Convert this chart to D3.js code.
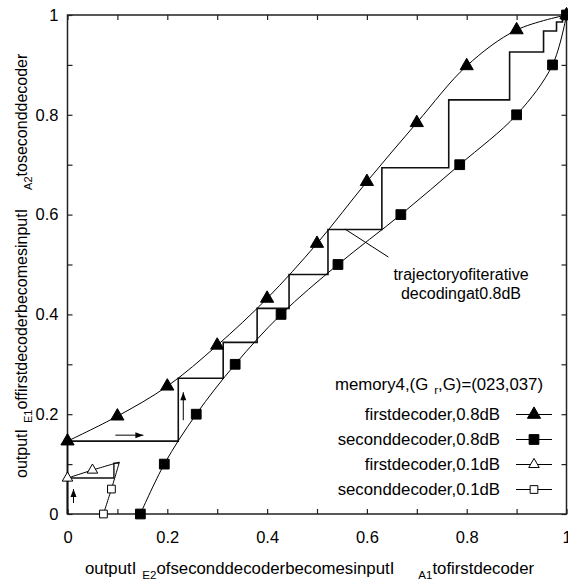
<!DOCTYPE html>
<html>
<head>
<meta charset="utf-8">
<script src="https://cdn.jsdelivr.net/npm/d3@7"></script>
<style>
  body { margin: 0; background: #fff; }
  text { font-family: "Liberation Sans", Arial, sans-serif; fill: #000; }
</style>
</head>
<body>
<div id="chart"></div>
<script>
// first decoder, 0.8dB : I_A1 -> I_E1
const first08X = [0, 0.1, 0.2, 0.3, 0.4, 0.5, 0.6, 0.7, 0.8, 0.9, 1.0];
const first08Y = [0.146, 0.196, 0.256, 0.338, 0.432, 0.542, 0.666, 0.784, 0.898, 0.97, 1.0];
// second decoder, 0.8dB : I_A2 (y) -> I_E2 (x)
const second08Y = [0, 0.1, 0.2, 0.3, 0.4, 0.5, 0.6, 0.7, 0.8, 0.9, 1.0];
const second08X = [0.146, 0.194, 0.258, 0.336, 0.428, 0.542, 0.668, 0.786, 0.90, 0.972, 1.0];
// 0.1dB curves
const first01X = [0, 0.05, 0.104];
const first01Y = [0.072, 0.088, 0.104];
const second01Y = [0, 0.05, 0.104];
const second01X = [0.072, 0.088, 0.104];
const marks01 = 2; // markers shown on first points only

// decoding trajectories
const traj08X = [0, 0, 0.222, 0.222, 0.312, 0.312, 0.38, 0.38, 0.444, 0.444, 0.522, 0.522, 0.63, 0.63, 0.764, 0.764, 0.886, 0.886, 0.954, 0.954, 0.98, 0.98, 0.992, 0.992, 1.0];
const traj08Y = [0, 0.146, 0.146, 0.272, 0.272, 0.344, 0.344, 0.412, 0.412, 0.48, 0.48, 0.57, 0.57, 0.694, 0.694, 0.83, 0.83, 0.926, 0.926, 0.968, 0.968, 0.986, 0.986, 1.0, 1.0];
const traj01X = [0, 0, 0.093, 0.093, 0.102, 0.102];
const traj01Y = [0, 0.072, 0.072, 0.102, 0.102, 0.104];

// arrows [x1, y1, x2, y2]
const arrows = [
  [0.012, 0.022, 0.012, 0.05],
  [0.096, 0.158, 0.152, 0.158],
  [0.232, 0.188, 0.232, 0.244]
];
// leader line of the annotation
const leader = [0.556, 0.571, 0.643, 0.515];

const majorTicks = [0, 0.2, 0.4, 0.6, 0.8, 1.0];
const tickLabels = ["0", "0.2", "0.4", "0.6", "0.8", "1"];
const minorTicks = [0.1, 0.3, 0.5, 0.7, 0.9];

const legendLabels = ["firstdecoder,0.8dB", "seconddecoder,0.8dB", "firstdecoder,0.1dB", "seconddecoder,0.1dB"];

const W = 568, H = 586;
const margin = {top: 15, right: 1.5, bottom: 72, left: 67.5};
const w = W - margin.left - margin.right;
const h = H - margin.top - margin.bottom;
const FS = "16.8px", SUB = "11.5px";

const svg = d3.select("#chart").append("svg")
  .attr("width", W).attr("height", H);
svg.append("rect").attr("width", W).attr("height", H).attr("fill", "#fff");

const g = svg.append("g").attr("transform", "translate(" + margin.left + "," + margin.top + ")");

const x = d3.scaleLinear().domain([0, 1]).range([0, w]);
const y = d3.scaleLinear().domain([0, 1]).range([h, 0]);

const allTicks = majorTicks.concat(minorTicks);
const fmt = v => { const i = majorTicks.indexOf(v); return i >= 0 ? tickLabels[i] : ""; };

// axes, ticks pointing in
const axisStyle = sel => {
  sel.select(".domain").remove();
  sel.selectAll(".tick line").attr("stroke", "#222").attr("stroke-width", 1.2);
  sel.selectAll("text").style("font-size", "16.5px").attr("fill", "#000");
};
g.append("g").attr("transform", "translate(0," + h + ")")
  .call(d3.axisBottom(x).tickValues(allTicks).tickFormat(fmt).tickSize(-5).tickPadding(17))
  .call(axisStyle);
g.append("g")
  .call(d3.axisTop(x).tickValues(allTicks).tickFormat("").tickSize(-5))
  .call(axisStyle);
g.append("g")
  .call(d3.axisLeft(y).tickValues(allTicks).tickFormat(fmt).tickSize(-5).tickPadding(9))
  .call(axisStyle);
g.append("g").attr("transform", "translate(" + w + ",0)")
  .call(d3.axisRight(y).tickValues(allTicks).tickFormat("").tickSize(-5))
  .call(axisStyle);

g.append("rect").attr("width", w).attr("height", h)
  .attr("fill", "none").attr("stroke", "#222").attr("stroke-width", 1.5);

const zip = (a, b) => a.map((v, i) => [v, b[i]]);
const smooth = d3.line().x(d => x(d[0])).y(d => y(d[1])).curve(d3.curveCatmullRom.alpha(0.5));
const straight = d3.line().x(d => x(d[0])).y(d => y(d[1]));

const curves = [
  {pts: zip(first08X, first08Y), sym: d3.symbolTriangle, size: 75, fill: "#000", n: 99},
  {pts: zip(second08X, second08Y), sym: d3.symbolSquare, size: 95, fill: "#000", n: 99},
  {pts: zip(first01X, first01Y), sym: d3.symbolTriangle, size: 48, fill: "#fff", n: marks01},
  {pts: zip(second01X, second01Y), sym: d3.symbolSquare, size: 60, fill: "#fff", n: marks01}
];

// trajectories
g.append("path").attr("d", straight(zip(traj08X, traj08Y)))
  .attr("fill", "none").attr("stroke", "#111").attr("stroke-width", 1.6);
g.append("path").attr("d", straight(zip(traj01X, traj01Y)))
  .attr("fill", "none").attr("stroke", "#111").attr("stroke-width", 1.4);

curves.forEach(c => {
  g.append("path").attr("d", smooth(c.pts))
    .attr("fill", "none").attr("stroke", "#000").attr("stroke-width", 1);
  g.selectAll(null).data(c.pts.slice(0, c.n)).enter().append("path")
    .attr("d", d3.symbol(c.sym, c.size))
    .attr("transform", d => "translate(" + x(d[0]) + "," + y(d[1]) + ")")
    .attr("fill", c.fill).attr("stroke", "#000").attr("stroke-width", 1);
});

// arrows
const head = (x1, y1, x2, y2) => {
  const a = Math.atan2(y2 - y1, x2 - x1), L = 8, s = 3;
  const bx = x2 - L * Math.cos(a), by = y2 - L * Math.sin(a);
  return [[x2, y2], [bx + s * Math.sin(a), by - s * Math.cos(a)], [bx - s * Math.sin(a), by + s * Math.cos(a)]];
};
arrows.forEach(a => {
  const x1 = x(a[0]), y1 = y(a[1]), x2 = x(a[2]), y2 = y(a[3]);
  g.append("line").attr("x1", x1).attr("y1", y1).attr("x2", x2).attr("y2", y2)
    .attr("stroke", "#000").attr("stroke-width", 1);
  g.append("polygon").attr("points", head(x1, y1, x2, y2).join(" ")).attr("fill", "#000");
});

// annotation
g.append("line").attr("x1", x(leader[0])).attr("y1", y(leader[1]))
  .attr("x2", x(leader[2])).attr("y2", y(leader[3]))
  .attr("stroke", "#000").attr("stroke-width", 1);
svg.append("text").attr("x", 461).attr("y", 280).attr("text-anchor", "middle")
  .style("font-size", "16px").text("trajectoryofiterative");
svg.append("text").attr("x", 461).attr("y", 299).attr("text-anchor", "middle")
  .style("font-size", "16px").text("decodingat0.8dB");

// legend
const title = svg.append("text").attr("x", 335).attr("y", 390).style("font-size", FS);
title.append("tspan").text("memory4,(G");
title.append("tspan").attr("dx", 6).attr("dy", 4).style("font-size", SUB).text("r");
title.append("tspan").attr("dy", -4).text(",G)=(023,037)");

legendLabels.forEach((lab, i) => {
  const ly = 414.5 + i * 25;
  svg.append("text").attr("x", 500).attr("y", ly + 5.5).attr("text-anchor", "end")
    .style("font-size", FS).text(lab);
  svg.append("line").attr("x1", 516).attr("x2", 552).attr("y1", ly).attr("y2", ly)
    .attr("stroke", "#000").attr("stroke-width", 1);
  const c = curves[i];
  svg.append("path").attr("d", d3.symbol(c.sym, c.size))
    .attr("transform", "translate(534," + ly + ")")
    .attr("fill", c.fill).attr("stroke", "#000").attr("stroke-width", 1);
});

// axis titles
const xl = svg.append("text").attr("x", 85).attr("y", 574).style("font-size", FS);
xl.append("tspan").text("outputI");
xl.append("tspan").attr("dx", 6).attr("dy", 5).style("font-size", SUB).text("E2");
xl.append("tspan").attr("dy", -5).text("ofseconddecoderbecomesinputI");
xl.append("tspan").attr("dx", 24).attr("dy", 5).style("font-size", SUB).text("A1");
xl.append("tspan").attr("dy", -5).text("tofirstdecoder");

const yl = svg.append("text").attr("transform", "translate(27,478) rotate(-90)").style("font-size", "16px");
yl.append("tspan").text("outputI");
yl.append("tspan").attr("dx", 6).attr("dy", 5).style("font-size", "11px").text("E1");
yl.append("tspan").attr("dy", -5).text("offirstdecoderbecomesinputI");
yl.append("tspan").attr("dx", 19).attr("dy", 5).style("font-size", "11px").text("A2");
yl.append("tspan").attr("dy", -5).text("toseconddecoder");
</script>
</body>
</html>
